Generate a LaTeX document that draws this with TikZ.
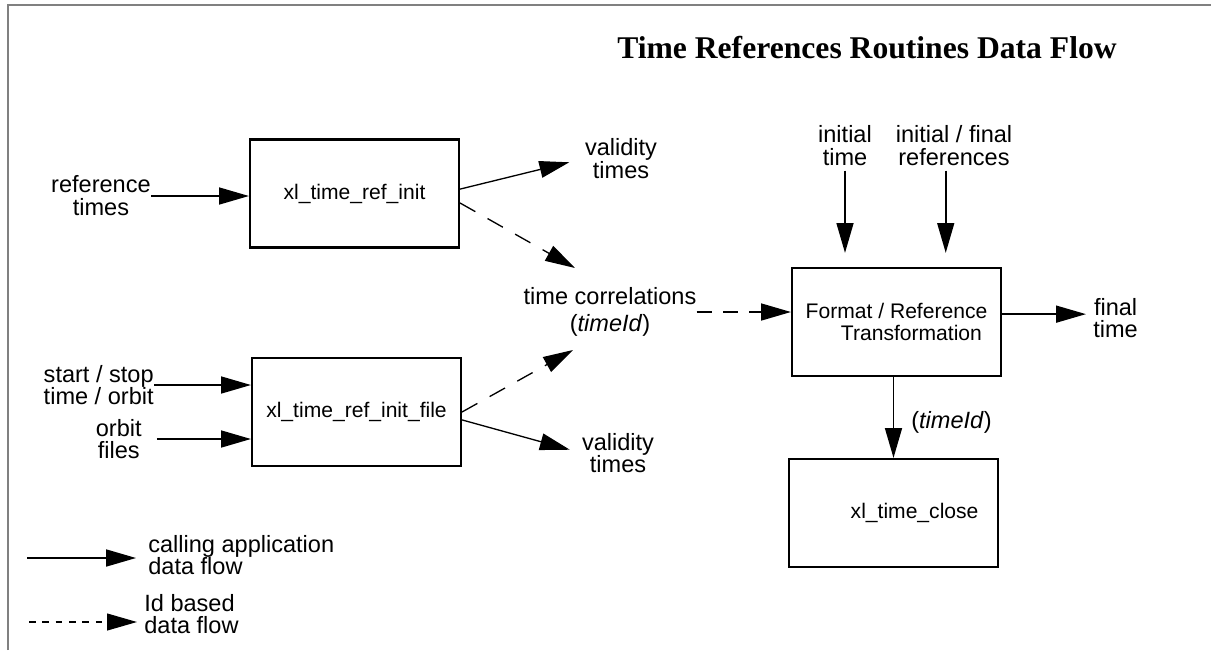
\documentclass[tikz,border=0pt]{standalone}
\usepackage{fontspec}
\setmainfont{Liberation Sans}
\newfontfamily\titlefont{Liberation Serif}
\usepackage{tikz}
\usetikzlibrary{arrows.meta,positioning}

\begin{document}
\begin{tikzpicture}[x=0.02cm,y=-0.02cm,
  routine/.style={draw,line width=1.2pt,minimum width=4.18cm,minimum height=2.16cm,inner sep=0pt,font=\fontsize{12}{13}\selectfont},
  flowtext/.style={align=center,inner sep=0pt,font=\fontsize{13.4}{13}\selectfont},
  flow/.style={line width=1.1pt,-{Triangle[length=17pt,width=9.6pt]}},
  thinflow/.style={flow,line width=0.75pt},
  idflow/.style={thinflow,dash pattern=on 10pt off 8pt}]
  \useasboundingbox (0,0) rectangle (1211,650);
  \draw[gray,line width=1.7pt] (8,650) -- (8,5) -- (1211,5);
  \node[anchor=base,font=\titlefont\fontsize{18}{20}\selectfont\bfseries] (title) at (867,58) {Time References Routines Data Flow};

  \node[routine] (init) at (354.5,193.5) {xl\_time\_ref\_init};
  \node[routine] (initfile) at (356.5,412) {xl\_time\_ref\_init\_file};
  \node[routine,align=center] (transf) at (896.5,322) {Format / Reference\\\hspace*{17pt}Transformation};
  \node[routine] (close) at (893.5,513) {\hspace*{24pt}xl\_time\_close};

  \node[flowtext,anchor=east] (reftimes) at (151,196) {reference\\times};
  \node[flowtext,anchor=east] (startstop) at (154,385) {start / stop\\time / orbit};
  \node[flowtext,anchor=east] (orbfiles) at (142,439) {orbit\\files};
  \node[flowtext] (valtop) at (621,158.5) {validity\\times};
  \node[flowtext] (valbot) at (618,453) {validity\\times};
  \node[flowtext] (timecorr) at (610,312) {time correlations\\[2.7pt](\textit{timeId})};
  \node[flowtext] (inittime) at (845,145.4) {initial\\time};
  \node[flowtext] (refs) at (954,145.4) {initial / final\\references};
  \node[flowtext,anchor=west] (finaltime) at (1093,318) {final\\time};
  \coordinate (tcup) at (575,268);
  \coordinate (tcdown) at (573,350);
  \coordinate (ftin) at ([yshift=2.2pt]finaltime.west);

  \draw[flow] (reftimes.east) -- (reftimes.east -| init.west);
  \draw[thinflow,shorten >=9pt] ([yshift=2.5pt]init.east) -- (valtop.west);
  \draw[idflow] ([yshift=-5.4pt]init.east) -- (tcup);
  \draw[flow] (startstop.east) -- (startstop.east -| initfile.west);
  \draw[flow] ([xshift=8.5pt]orbfiles.east) -- (orbfiles.east -| initfile.west);
  \draw[idflow] (initfile.east) -- (tcdown);
  \draw[thinflow,shorten >=7pt] ([yshift=-4.5pt]initfile.east) -- (valbot.west);
  \draw[flow,dash pattern=on 8.5pt off 6.5pt] (timecorr.east) -- (timecorr.east -| transf.west);
  \draw[flow,shorten <=2.8pt,shorten >=8pt] (inittime.south) -- (inittime.south |- transf.north);
  \draw[flow,shorten <=2.8pt,shorten >=8pt] ([xshift=-4.7pt]refs.south) -- ([xshift=-4.7pt]refs.south |- transf.north);
  \draw[flow,shorten >=4pt] (ftin -| transf.east) -- (ftin);
  \draw[flow] (close.north |- transf.south) -- (close.north) node[flowtext,midway,right=9.6pt,yshift=-2.9pt] (closeid) {(\textit{timeId})};

  \coordinate (legsolid) at (27,558);
  \coordinate (legdash) at (29,622);
  \node[flowtext,align=left,anchor=west] (legcall) at (148,555) {calling application\\data flow};
  \node[flowtext,align=left,anchor=west] (legid) at (144,614) {Id based\\data flow};
  \draw[flow,shorten >=6.8pt] (legsolid) -- (legsolid -| legcall.west);
  \draw[thinflow,dash pattern=on 3.8pt off 3.8pt,shorten >=4pt] (legdash) -- (legdash -| legid.west);
\end{tikzpicture}
\end{document}
